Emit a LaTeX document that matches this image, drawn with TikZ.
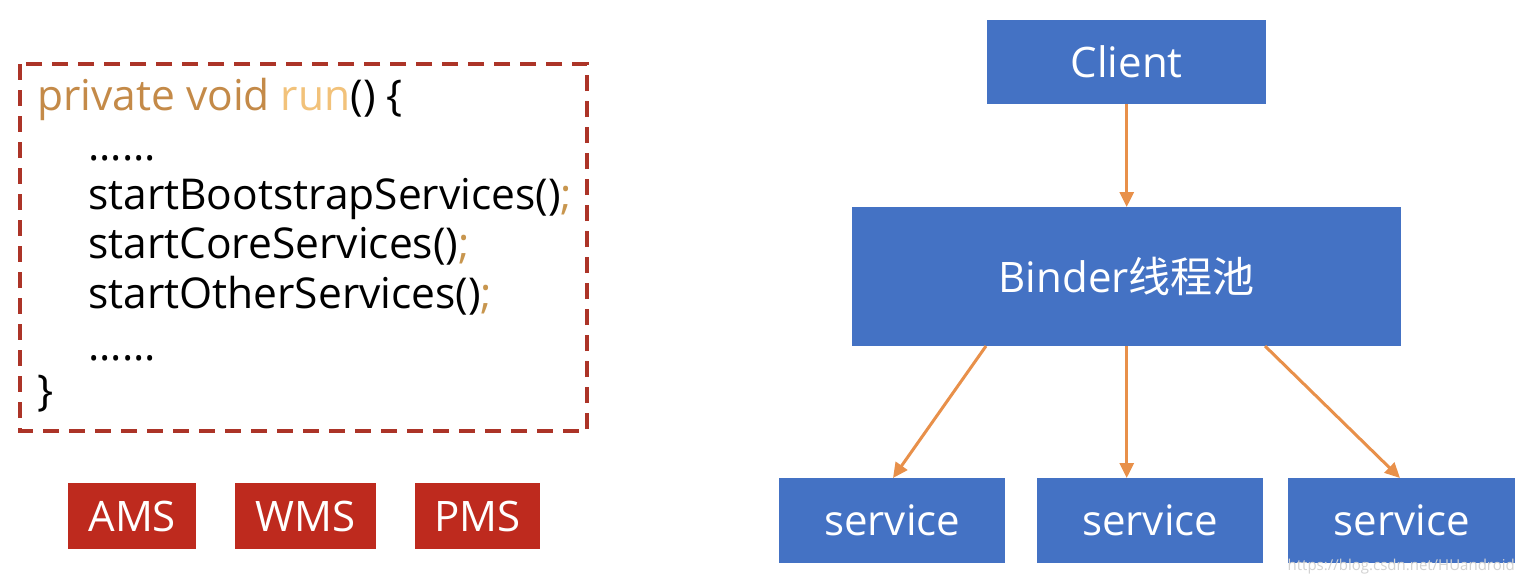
\documentclass[tikz,border=0pt]{standalone}
\usepackage{fontspec}
\setmainfont{Open Sans}
\newfontfamily\cjk{Noto Sans CJK SC}
\usetikzlibrary{arrows.meta}
\definecolor{boxblue}{HTML}{4472C4}
\definecolor{boxred}{HTML}{BE2A1E}
\definecolor{dashred}{HTML}{AC3428}
\definecolor{arr}{HTML}{E8904A}
\definecolor{kw}{HTML}{C48A48}
\definecolor{fn}{HTML}{F2C27A}
\definecolor{semi}{HTML}{C8964E}
\tikzset{
  bluebox/.style={fill=boxblue, draw=none, text=white, inner sep=0pt, anchor=north west, font=\fontsize{42}{50}\selectfont},
  redbox/.style={fill=boxred, draw=none, text=white, inner sep=0pt, anchor=north west, font=\fontsize{42}{50}\selectfont},
  codeline/.style={anchor=base west, inner sep=0pt, font=\fontsize{42.5}{50}\selectfont},
  conn/.style={draw=arr, line width=3pt, -{Triangle[length=15pt,width=14pt]}},
}
\begin{document}
\begin{tikzpicture}[x=1pt,y=-1pt]
\useasboundingbox[fill=white] (0,0) rectangle (1522,584);
% code frame
\draw[dashred, line width=3.5pt, dash pattern=on 16pt off 10pt] (20,64) rectangle (587,431);
\node[codeline] (l1) at (37,110) {\textcolor{kw}{private void }\textcolor{fn}{run}() \{};
\node[codeline] (l2) at (88,160) {......};
\node[codeline] (l3) at (88,209) {startBootstrapServices()\textcolor{semi}{;}};
\node[codeline] (l4) at (88,258) {startCoreServices()\textcolor{semi}{;}};
\node[codeline] (l5) at (88,308) {startOtherServices()\textcolor{semi}{;}};
\node[codeline] (l6) at (88,360) {......};
\node[codeline] (l7) at (37,405) {\}};
% red boxes
\node[redbox, minimum width=128pt, minimum height=66pt] (ams) at (68,483) {AMS};
\node[redbox, minimum width=141pt, minimum height=66pt] (wms) at (235,483) {WMS};
\node[redbox, minimum width=125pt, minimum height=66pt] (pms) at (415,483) {PMS};
% right diagram
\node[bluebox, minimum width=279pt, minimum height=84pt] (client) at (987,20) {Client};
\node[bluebox, minimum width=549pt, minimum height=139pt] (binder) at (852,207) {Binder{\cjk 线程池}};
\node[bluebox, minimum width=226pt, minimum height=85pt] (s1) at (779,478) {service};
\node[bluebox, minimum width=226pt, minimum height=85pt] (s2) at (1037,478) {service};
\node[bluebox, minimum width=227pt, minimum height=85pt] (s3) at (1288,478) {service};
\coordinate (b1) at (986,346);
\coordinate (b3) at (1265,346);
\coordinate (t1) at (893,478);
\coordinate (t3) at (1400,478);
\draw[conn] (client.south) -- (binder.north);
\draw[conn] (b1) -- (t1);
\draw[conn] (binder.south) -- (binder.south |- s2.north);
\draw[conn] (b3) -- (t3);
\node[anchor=base east, inner sep=0pt, text=gray!35, font=\fontsize{15}{17}\selectfont] (wm) at (1515,570) {https://blog.csdn.net/HUandroid};
\end{tikzpicture}
\end{document}
